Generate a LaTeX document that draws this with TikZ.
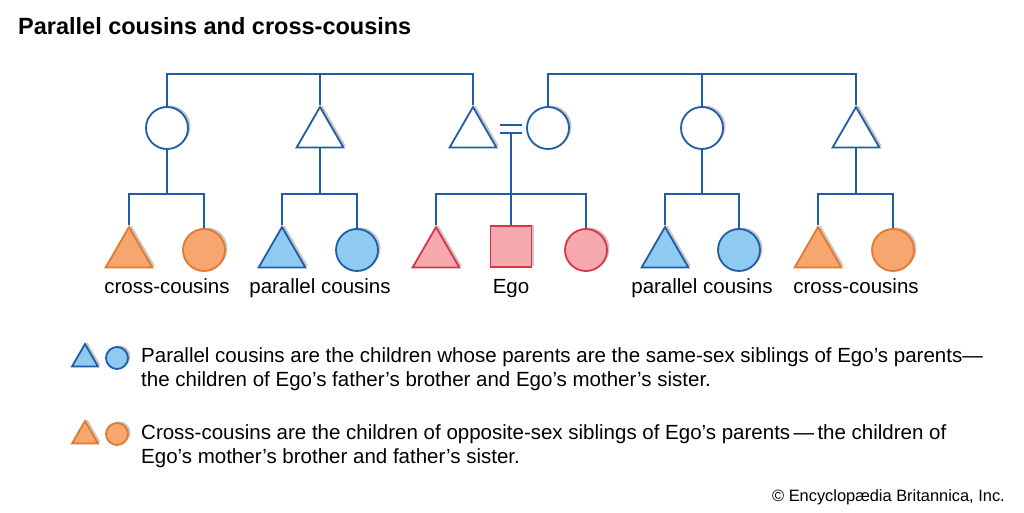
\documentclass[tikz,border=0pt]{standalone}
\usepackage{fontspec}
\setmainfont{Liberation Sans}
\usetikzlibrary{shapes.geometric,shadows}

\definecolor{kinblue}{HTML}{1F5DA8}
\definecolor{parfill}{HTML}{8FCBF0}
\definecolor{crossline}{HTML}{E2792C}
\definecolor{crossfill}{HTML}{F6A66E}
\definecolor{egoline}{HTML}{D63648}
\definecolor{egofill}{HTML}{F5A8AE}

\begin{document}
\begin{tikzpicture}[x=1pt,y=-1pt,
  kin/.style={draw=kinblue, line width=1.8pt, inner sep=0pt, fill=white,
    drop shadow={shadow xshift=2.5pt, shadow yshift=1.5pt, fill=black!22, opacity=1}},
  male/.style={kin, regular polygon, regular polygon sides=3, minimum size=54pt},
  female/.style={kin, circle, minimum size=42pt},
  egobox/.style={kin, rectangle, minimum size=41pt},
  keymale/.style={kin, regular polygon, regular polygon sides=3, minimum size=30pt, drop shadow={shadow xshift=1.5pt, shadow yshift=1pt, fill=black!22, opacity=1}},
  keyfemale/.style={kin, circle, minimum size=22pt, drop shadow={shadow xshift=1.5pt, shadow yshift=1pt, fill=black!22, opacity=1}},
  par/.style={fill=parfill},
  cross/.style={draw=crossline, fill=crossfill},
  egofam/.style={draw=egoline, fill=egofill},
  kinline/.style={draw=kinblue, line width=1.6pt},
  lbl/.style={font=\fontsize{20.5}{24}\selectfont, inner sep=0pt, anchor=base},
  keytext/.style={anchor=west, align=left, inner sep=0pt, font=\fontsize{20.5}{24}\selectfont}]
\useasboundingbox (0,0) rectangle (1024,512);

% Title
\node[anchor=base west, inner sep=0pt, font=\fontsize{23.5}{26}\selectfont\bfseries] (title) at (18,34) {Parallel cousins and cross-cousins};

% Parents generation
\node[female] (fsis) at (167,128) {};
\node[male] (fbro) at (320,134) {};
\node[male] (efat) at (473,134) {};
\node[female] (emot) at (548,128) {};
\node[female] (msis) at (702,128) {};
\node[male] (mbro) at (856,134) {};

% Cousins generation
\node[male, cross] (k1a) at (129,254) {};
\node[female, cross] (k1b) at (204,250) {};
\node[male, par] (k2a) at (282,254) {};
\node[female, par] (k2b) at (357,250) {};
\node[male, egofam] (k3a) at (436,254) {};
\node[egobox, egofam] (ego) at (511,246.5) {};
\node[female, egofam] (k3c) at (586,250) {};
\node[male, par] (k4a) at (665,254) {};
\node[female, par] (k4b) at (739,250) {};
\node[male, cross] (k5a) at (818,254) {};
\node[female, cross] (k5b) at (893,250) {};

% Joints
\coordinate (ltop) at (320,74);
\coordinate (rtop) at (702,74);
\coordinate (eqtop) at (511,125);
\coordinate (eqbot) at (511,133);
\coordinate (fam1) at (167,194);
\coordinate (fam2) at (320,194);
\coordinate (fam3) at (511,194);
\coordinate (fam4) at (702,194);
\coordinate (fam5) at (856,194);

% Sibling lines
\draw[kinline] (fsis.north) |- (ltop) -| (efat.north);
\draw[kinline] (fbro.north) -- (ltop);
\draw[kinline] (emot.north) |- (rtop) -| (mbro.north);
\draw[kinline] (msis.north) -- (rtop);

% Marriage
\draw[kinline] ([xshift=-11pt]eqtop) -- ([xshift=11pt]eqtop);
\draw[kinline] ([xshift=-11pt]eqbot) -- ([xshift=11pt]eqbot);
\draw[kinline] (eqbot) -- (fam3);

% Descent lines
\draw[kinline] (fsis.south) -- (fam1);
\draw[kinline] (k1a.north) |- (fam1) -| (k1b.north);
\draw[kinline] (fbro.south) -- (fam2);
\draw[kinline] (k2a.north) |- (fam2) -| (k2b.north);
\draw[kinline] (ego.north) -- (fam3);
\draw[kinline] (k3a.north) |- (fam3) -| (k3c.north);
\draw[kinline] (msis.south) -- (fam4);
\draw[kinline] (k4a.north) |- (fam4) -| (k4b.north);
\draw[kinline] (mbro.south) -- (fam5);
\draw[kinline] (k5a.north) |- (fam5) -| (k5b.north);

% Labels
\node[lbl] (lab1) at (167,293) {cross-cousins};
\node[lbl] (lab2) at (320,293) {parallel cousins};
\node[lbl] (lab3) at (511,293) {Ego};
\node[lbl] (lab4) at (702,293) {parallel cousins};
\node[lbl] (lab5) at (856,293) {cross-cousins};

% Key
\node[keymale, par] (keypm) at (85,359) {};
\node[keyfemale, par] (keypf) at (117,358) {};
\node[keymale, cross] (keycm) at (85,436) {};
\node[keyfemale, cross] (keycf) at (117,434) {};
\node[keytext] (keyp) at (141,369)
  {Parallel cousins are the children whose parents are the same-sex siblings of Ego’s parents—\\
   the children of Ego’s father’s brother and Ego’s mother’s sister.};
\node[keytext] (keyc) at (141,446)
  {Cross-cousins are the children of opposite-sex siblings of Ego’s parents\,—\,the children of\\
   Ego’s mother’s brother and father’s sister.};

% Credit
\node[anchor=east, inner sep=0pt, font=\fontsize{16.4}{18}\selectfont] (credit) at (1005,497) {© Encyclopædia Britannica, Inc.};
\end{tikzpicture}
\end{document}
